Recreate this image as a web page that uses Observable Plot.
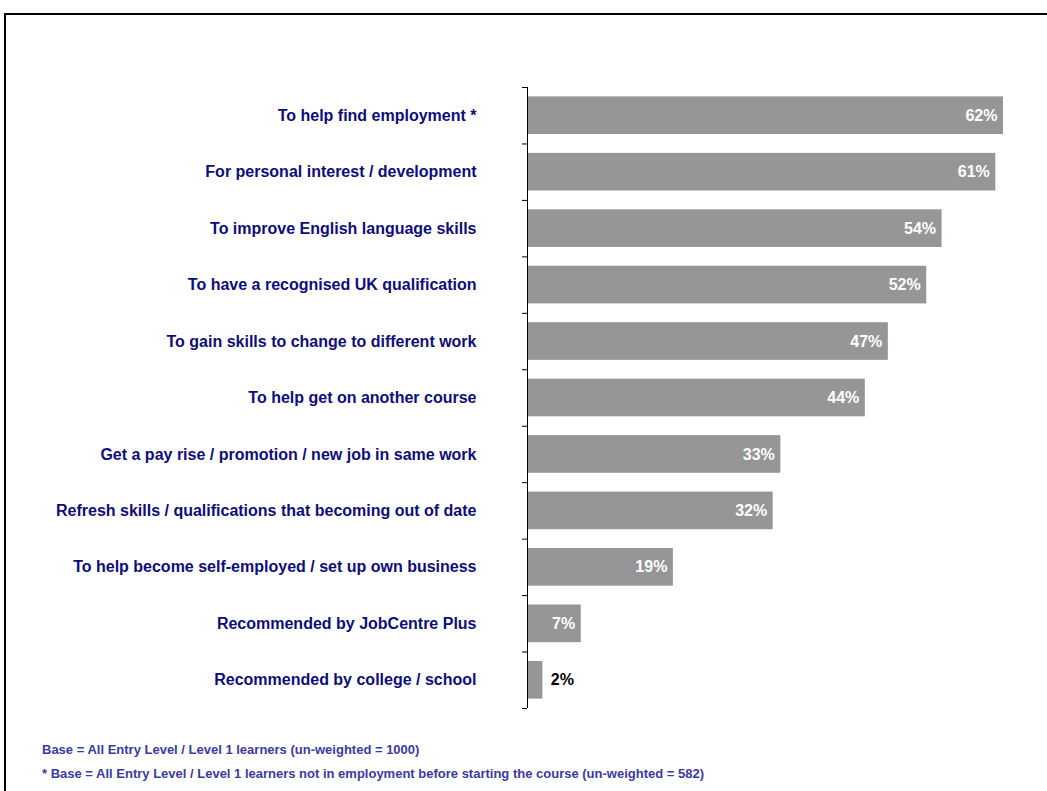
<!DOCTYPE html>
<html>
<head>
<meta charset="utf-8">
<script src="https://cdn.jsdelivr.net/npm/d3@7"></script>
<script src="https://cdn.jsdelivr.net/npm/@observablehq/plot@0.6"></script>
<style>
  html, body { margin: 0; padding: 0; background: #fff; }
  #wrap { position: relative; width: 1047px; height: 791px; overflow: hidden; font-family: "Liberation Sans", Arial, sans-serif; }
  #frame { position: absolute; left: 4px; top: 13px; width: 1100px; height: 900px; border-top: 2px solid #000; border-left: 2px solid #000; }
  #chart { position: absolute; left: 0; top: 0; }
  #chart svg { display: block; }
  .note { position: absolute; left: 42px; font-size: 13px; line-height: 15px; font-weight: bold; color: #3a3aa6; white-space: nowrap; }
</style>
</head>
<body>
<div id="wrap">
  <div id="frame"></div>
  <div id="chart"></div>
  <div class="note" style="top:742px">Base = All Entry Level / Level 1 learners (un-weighted = 1000)</div>
  <div class="note" style="top:766px">* Base = All Entry Level / Level 1 learners not in employment before starting the course (un-weighted = 582)</div>
</div>
<script>
const categories = [
  "To help find employment *",
  "For personal interest / development",
  "To improve English language skills",
  "To have a recognised UK qualification",
  "To gain skills to change to different work",
  "To help get on another course",
  "Get a pay rise / promotion / new job in same work",
  "Refresh skills / qualifications that becoming out of date",
  "To help become self-employed / set up own business",
  "Recommended by JobCentre Plus",
  "Recommended by college / school"
];
const values = [62, 61, 54, 52, 47, 44, 33, 32, 19, 7, 2];

const data = categories.map((c, i) => ({category: c, value: values[i]}));
const H = 791, mTop = 87, mBottom = 83;
const bw = (H - mTop - mBottom) / categories.length;

const chart = Plot.plot({
  width: 1047,
  height: H,
  marginLeft: 527,
  marginRight: 44,
  marginTop: mTop,
  marginBottom: mBottom,
  style: {fontFamily: "'Liberation Sans', Arial, sans-serif", background: "transparent"},
  x: {domain: [0, 62], axis: null},
  y: {domain: categories, padding: 0, round: false, axis: null, label: null},
  marks: [
    Plot.barX(data, {x: "value", y: "category", fill: "#969696", insetTop: 9.4, insetBottom: 9.4}),
    Plot.axisY({label: null, tickSize: 0, tickPadding: 51, fontSize: 16, fontWeight: "bold", fill: "#0d0d80", color: "#0d0d80", textAnchor: "end"}),
    Plot.axisY({label: null, ticks: categories, tickSize: 5, text: null, dy: -bw / 2, stroke: "#000"}),
    Plot.axisY({label: null, ticks: [categories[categories.length - 1]], tickSize: 5, text: null, dy: bw / 2, stroke: "#000"}),
    Plot.ruleX([0], {stroke: "#000", strokeWidth: 1}),
    Plot.text(data.filter(d => d.value >= 5), {x: "value", y: "category", text: d => d.value + "%", textAnchor: "end", dx: -6, fill: "#fff", fontSize: 16, fontWeight: "bold"}),
    Plot.text(data.filter(d => d.value < 5), {x: "value", y: "category", text: d => d.value + "%", textAnchor: "start", dx: 8, fill: "#000", fontSize: 16, fontWeight: "bold"})
  ]
});
document.getElementById("chart").appendChild(chart);
</script>
</body>
</html>
